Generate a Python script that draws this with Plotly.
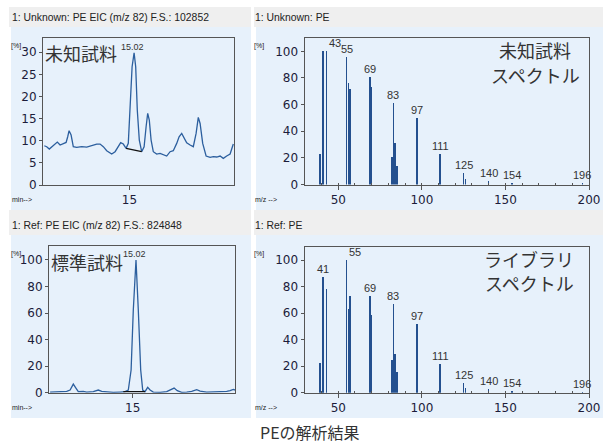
import plotly.graph_objects as go

W, H = 603, 443

# ---------------- data ----------------
# Unknown sample EIC (m/z 82), retention time [min] / intensity [%]
unk_t = [14.574, 14.586, 14.599, 14.611, 14.628, 14.639, 14.653, 14.669, 14.683, 14.691,
         14.698, 14.708, 14.719, 14.736, 14.761, 14.786, 14.811, 14.836, 14.853, 14.869,
         14.886, 14.911, 14.928, 14.944, 14.956, 14.969, 14.983, 14.994, 15.003, 15.013,
         15.023, 15.031, 15.039, 15.049, 15.061, 15.073, 15.083, 15.091, 15.099, 15.108,
         15.119, 15.136, 15.153, 15.169, 15.186, 15.203, 15.219, 15.236, 15.248, 15.261,
         15.273, 15.286, 15.303, 15.319, 15.333, 15.344, 15.353, 15.366, 15.383, 15.403,
         15.419, 15.436, 15.453, 15.469, 15.486, 15.503, 15.519]
unk_i = [8.87, 8.65, 8.12, 8.65, 9.25, 9.70, 9.02, 9.25, 9.62, 10.9,
         12.26, 11.28, 8.65, 8.50, 8.65, 8.57, 8.87, 9.25, 9.25, 8.65,
         7.74, 6.99, 7.52, 8.65, 9.55, 9.25, 8.27, 9.40, 16.9, 26.7,
         29.85, 26.7, 16.9, 10.15, 7.52, 8.65, 13.16, 16.17, 14.66, 10.15,
         7.52, 6.99, 7.14, 6.77, 6.54, 7.52, 7.74, 9.40, 10.9, 11.65,
         10.53, 9.55, 9.02, 8.65, 11.65, 15.26, 13.9, 9.40, 6.54, 6.24,
         6.39, 6.32, 6.54, 6.02, 6.54, 6.99, 9.25]
unk_base_t = [14.983, 15.019, 15.061]
unk_base_i = [8.27, 7.89, 7.52]
unk_peak_t, unk_peak_i = 15.023, 29.85

# Reference sample EIC (m/z 82)
ref_t = [14.587, 14.620, 14.637, 14.670, 14.687, 14.703, 14.717, 14.728, 14.753, 14.770,
         14.803, 14.828, 14.845, 14.870, 14.903, 14.937, 14.962, 14.978, 14.992, 15.003,
         15.0165, 15.028, 15.040, 15.050, 15.0615, 15.075, 15.087, 15.103, 15.137, 15.170,
         15.190, 15.207, 15.223, 15.245, 15.270, 15.295, 15.320, 15.337, 15.370, 15.403,
         15.437, 15.470, 15.487, 15.503, 15.5115]
ref_i = [0.5, 0.75, 1.0, 1.0, 2.0, 6.5, 3.3, 0.75, 1.0, 0.5,
         0.75, 2.0, 1.0, 0.5, 0.25, 0.5, 0.75, 2.0, 17.1, 62.3,
         100, 62.3, 17.1, 2.0, 0.75, 4.0, 2.0, 0.5, 0.25, 0.75,
         2.0, 3.5, 1.5, 0.25, 0.5, 1.0, 2.3, 1.25, 0.5, 0.5,
         0.75, 1.0, 1.5, 2.5, 2.0]
ref_base_t = [14.953, 15.0615]
ref_base_i = [0.75, 0.75]
ref_peak_t, ref_peak_i = 15.0165, 100

# Mass spectra (m/z, relative abundance %)
unk_mz = [39, 41, 43, 55, 56, 57, 69, 70, 82, 83, 84, 85, 97, 111, 125, 126, 140, 154, 196]
unk_ab = [23, 100, 100, 96, 76, 72, 81, 73, 21, 61, 31, 14, 50, 23, 8.3, 4.5, 2.7, 1.5, 0.8]
ref_mz = [39, 41, 43, 55, 56, 57, 69, 70, 82, 83, 84, 85, 97, 111, 125, 126, 140, 154, 196]
ref_ab = [22.6, 87, 78, 100, 63, 73, 73, 59, 24.6, 67, 29, 16, 51.5, 21.6, 7.3, 3.3, 2.5, 1.3, 0.5]
unk_labels = [43, 55, 69, 83, 97, 111, 125, 140, 154, 196]
ref_labels = [41, 55, 69, 83, 97, 111, 125, 140, 154, 196]

titles = ["1: Unknown: PE EIC (m/z 82) F.S.: 102852", "1: Unknown: PE",
          "1: Ref: PE EIC (m/z 82) F.S.: 824848", "1: Ref: PE"]
caption = "PEの解析結果"

# ---------------- styling helpers ----------------
def px(x):
    return x / W

def py(y):
    return 1 - y / H

LINE = "#2c5f9e"
BAR = "#24508f"
FRAME = "#555555"
GREY = "#efefef"
BLUE = "#e7f1fb"
TICKFONT = dict(family="DejaVu Sans", size=12, color="#1c1c3a")
CJK = "Noto Sans CJK JP"
SANS = "Liberation Sans, Arial"

fig = go.Figure()

# chromatograms
fig.add_trace(go.Scatter(x=unk_t, y=unk_i, mode="lines", line=dict(color=LINE, width=1.3),
                         xaxis="x", yaxis="y", showlegend=False))
fig.add_trace(go.Scatter(x=unk_base_t, y=unk_base_i, mode="lines", line=dict(color="#111111", width=1.2),
                         xaxis="x", yaxis="y", showlegend=False))
fig.add_trace(go.Scatter(x=ref_t, y=ref_i, mode="lines", line=dict(color=LINE, width=1.3),
                         xaxis="x3", yaxis="y3", showlegend=False))
fig.add_trace(go.Scatter(x=ref_base_t, y=ref_base_i, mode="lines", line=dict(color="#111111", width=1.2),
                         xaxis="x3", yaxis="y3", showlegend=False))
# spectra
fig.add_trace(go.Bar(x=unk_mz, y=unk_ab, width=0.9, marker=dict(color=BAR, line=dict(width=0)),
                     xaxis="x2", yaxis="y2", showlegend=False))
fig.add_trace(go.Bar(x=ref_mz, y=ref_ab, width=0.9, marker=dict(color=BAR, line=dict(width=0)),
                     xaxis="x4", yaxis="y4", showlegend=False))

def axis_common():
    return dict(showline=True, mirror=True, linecolor=FRAME, linewidth=1, showgrid=False,
                zeroline=False, ticks="outside", ticklen=3, tickcolor=FRAME,
                tickfont=TICKFONT, automargin=False)

chrom_x = dict(tickvals=[15], ticktext=["15"], ticklen=4)
spec_x = dict(tickvals=[50, 100, 150, 200], ticklen=4,
              minor=dict(dtick=10, ticks="inside", ticklen=2, tickcolor=FRAME))

fig.update_layout(
    width=W, height=H, margin=dict(l=0, r=0, t=0, b=0, pad=0),
    paper_bgcolor="white", plot_bgcolor="rgba(0,0,0,0)", bargap=0,
    xaxis=dict(**axis_common(), domain=[px(43), px(234)], range=[14.5675, 15.5225], anchor="y"),
    yaxis=dict(**axis_common(), domain=[py(185), py(38)], range=[0, 33.2], anchor="x",
               tickvals=[0, 5, 10, 15, 20, 25, 30]),
    xaxis2=dict(**axis_common(), domain=[px(304.5), px(589)], range=[29.8, 200], anchor="y2"),
    yaxis2=dict(**axis_common(), domain=[py(184.5), py(38)], range=[0, 110], anchor="x2",
                tickvals=[0, 20, 40, 60, 80, 100]),
    xaxis3=dict(**axis_common(), domain=[px(49), px(235)], range=[14.5815, 15.5115], anchor="y3"),
    yaxis3=dict(**axis_common(), domain=[py(392.7), py(246)], range=[0, 110.5], anchor="x3",
                tickvals=[0, 20, 40, 60, 80, 100]),
    xaxis4=dict(**axis_common(), domain=[px(304.5), px(589)], range=[29.8, 200], anchor="y4"),
    yaxis4=dict(**axis_common(), domain=[py(392.7), py(247)], range=[0, 110], anchor="x4",
                tickvals=[0, 20, 40, 60, 80, 100]),
)
fig.update_layout(xaxis=chrom_x, xaxis3=chrom_x, xaxis2=spec_x, xaxis4=spec_x)

# panel backgrounds
shapes = []
for (x0, x1) in [(9, 251), (254, 603)]:
    shapes.append(dict(type="rect", xref="paper", yref="paper", x0=px(x0), x1=px(x1),
                       y0=py(27), y1=py(7), fillcolor=GREY, line_width=0, layer="below"))
    shapes.append(dict(type="rect", xref="paper", yref="paper", x0=px(x0 + 2), x1=px(x1),
                       y0=py(210), y1=py(27), fillcolor=BLUE, line_width=0, layer="below"))
    shapes.append(dict(type="rect", xref="paper", yref="paper", x0=px(x0), x1=px(x1),
                       y0=py(235), y1=py(210), fillcolor=GREY, line_width=0, layer="below"))
    shapes.append(dict(type="rect", xref="paper", yref="paper", x0=px(x0 + 2), x1=px(x1),
                       y0=py(418), y1=py(235), fillcolor=BLUE, line_width=0, layer="below"))
fig.update_layout(shapes=shapes)

ann = []
def text(x, y, s, size, family=SANS, color="#222222", xanchor="left"):
    ann.append(dict(xref="paper", yref="paper", x=px(x), y=py(y), text=s, showarrow=False,
                    xanchor=xanchor, yanchor="middle", borderpad=0,
                    font=dict(family=family, size=size, color=color)))

# panel titles
text(11, 18, titles[0], 10.4)
text(254, 18, titles[1], 10.4)
text(11, 226, titles[2], 10.4)
text(254, 226, titles[3], 10.4)
# unit labels
for (x, y) in [(10, 46), (253, 46), (10, 254), (253, 254)]:
    text(x, y, "[%]", 7)
text(11, 200, "min-->", 7)
text(11, 407, "min-->", 7)
text(254, 200, "m/z -->", 7)
text(254, 407, "m/z -->", 7)
# Japanese overlays
text(44, 53, "未知試料", 18, CJK, "#333333")
text(50, 262, "標準試料", 18, CJK, "#333333")
text(535, 50, "未知試料", 18, CJK, "#333333", "center")
text(535, 75, "スペクトル", 18, CJK, "#333333", "center")
text(529, 259, "ライブラリ", 18, CJK, "#333333", "center")
text(529, 283, "スペクトル", 18, CJK, "#333333", "center")
text(310, 432, caption, 16, CJK, "#333333", "center")

# peak labels on chromatograms
for (t, v, xa, ya) in [(unk_peak_t, unk_peak_i, "x", "y"), (ref_peak_t, ref_peak_i, "x3", "y3")]:
    ann.append(dict(xref=xa, yref=ya, x=t, y=v, text=f"{t:.2f}", showarrow=False,
                    xanchor="center", yanchor="bottom", xshift=-2, yshift=0, borderpad=0,
                    font=dict(family=SANS, size=9, color="#333333")))

# spectrum peak labels
label_shift = {("x2", 43): 8, ("x4", 55): 8}
for (mz, ab, labels, xa, ya) in [(unk_mz, unk_ab, unk_labels, "x2", "y2"),
                                 (ref_mz, ref_ab, ref_labels, "x4", "y4")]:
    for m in labels:
        v = ab[mz.index(m)]
        ann.append(dict(xref=xa, yref=ya, x=m, y=v, text=str(m), showarrow=False,
                        xanchor="center", yanchor="bottom", xshift=label_shift.get((xa, m), 0),
                        yshift=1, borderpad=0,
                        font=dict(family=SANS, size=11, color="#333333")))

fig.update_layout(annotations=ann)
fig.write_html("out.html", config={"displayModeBar": False, "staticPlot": True},
               post_script="document.body.style.margin='0';document.body.style.overflow='hidden';")
